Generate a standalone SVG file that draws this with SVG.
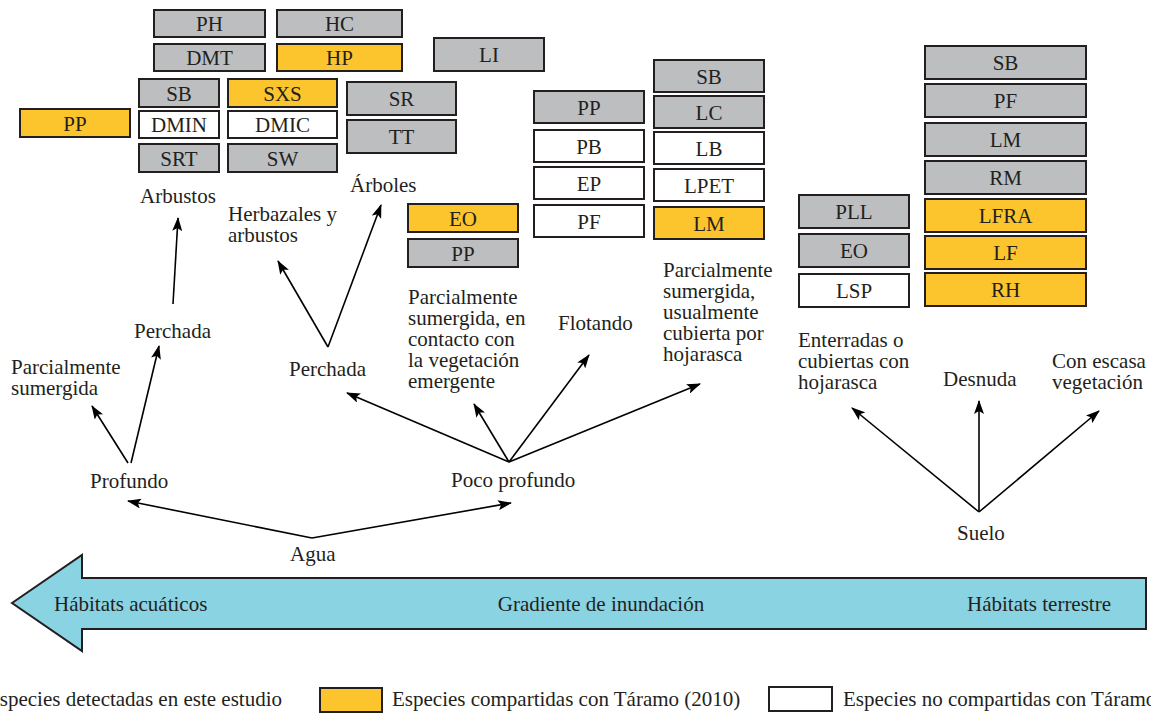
<svg xmlns="http://www.w3.org/2000/svg" width="1151" height="714" viewBox="0 0 1151 714" font-family="'Liberation Serif', Tinos, 'Times New Roman', 'DejaVu Serif', serif" font-size="21">
<defs>
<style>
text{font-family:'Liberation Serif',Tinos,'Times New Roman','DejaVu Serif',serif;font-size:21px;fill:#231f20}
.g{fill:#bcbec0;stroke:#231f20;stroke-width:2}
.y{fill:#fcc42d;stroke:#231f20;stroke-width:2}
.w{fill:#ffffff;stroke:#231f20;stroke-width:2}
.c{text-anchor:middle}
.ln{stroke:#000;stroke-width:1.6;fill:none;marker-end:url(#ah)}
</style>
<marker id="ah" markerUnits="userSpaceOnUse" markerWidth="14" markerHeight="10" refX="13" refY="5" orient="auto">
<path d="M0,0 L14,5 L0,10 L3,5 z" fill="#000"/>
</marker>
</defs>
<rect width="1151" height="714" fill="#fff"/>

<g id="boxes">
<g id="n-PH"><rect class="g" x="154" y="10" width="111" height="27"/><text class="c" x="209.5" y="31">PH</text></g>
<g id="n-HC"><rect class="g" x="277" y="10" width="125" height="27"/><text class="c" x="339.5" y="31">HC</text></g>
<g id="n-DMT"><rect class="g" x="154" y="44" width="111" height="27"/><text class="c" x="209.5" y="65">DMT</text></g>
<g id="n-HP"><rect class="y" x="277" y="44" width="125" height="27"/><text class="c" x="339.5" y="65">HP</text></g>
<g id="n-LI"><rect class="g" x="434" y="38" width="110" height="33"/><text class="c" x="489" y="62">LI</text></g>
<g id="n-PP1"><rect class="y" x="20" y="109" width="110" height="28"/><text class="c" x="75" y="130.5">PP</text></g>
<g id="n-SB1"><rect class="g" x="139" y="79" width="80" height="28"/><text class="c" x="179" y="100.5">SB</text></g>
<g id="n-DMIN"><rect class="w" x="139" y="111" width="80" height="27"/><text class="c" x="179" y="132">DMIN</text></g>
<g id="n-SRT"><rect class="g" x="139" y="144" width="80" height="28"/><text class="c" x="179" y="165.5">SRT</text></g>
<g id="n-SXS"><rect class="y" x="228" y="79" width="109" height="28"/><text class="c" x="282.5" y="100.5">SXS</text></g>
<g id="n-DMIC"><rect class="w" x="228" y="111" width="109" height="27"/><text class="c" x="282.5" y="132">DMIC</text></g>
<g id="n-SW"><rect class="g" x="228" y="144" width="109" height="28"/><text class="c" x="282.5" y="165.5">SW</text></g>
<g id="n-SR"><rect class="g" x="347" y="82" width="109" height="33"/><text class="c" x="401.5" y="106">SR</text></g>
<g id="n-TT"><rect class="g" x="347" y="120" width="109" height="33"/><text class="c" x="401.5" y="144">TT</text></g>
<g id="n-EO1"><rect class="y" x="408" y="204" width="110" height="28"/><text class="c" x="463" y="225.5">EO</text></g>
<g id="n-PP2"><rect class="g" x="408" y="239" width="110" height="28"/><text class="c" x="463" y="260.5">PP</text></g>
<g id="n-PP3"><rect class="g" x="534" y="91" width="110" height="32"/><text class="c" x="589" y="114.5">PP</text></g>
<g id="n-PB"><rect class="w" x="534" y="130" width="110" height="32"/><text class="c" x="589" y="153.5">PB</text></g>
<g id="n-EP"><rect class="w" x="534" y="167" width="110" height="32"/><text class="c" x="589" y="190.5">EP</text></g>
<g id="n-PF1"><rect class="w" x="534" y="205" width="110" height="32"/><text class="c" x="589" y="228.5">PF</text></g>
<g id="n-SB2"><rect class="g" x="654" y="60" width="110" height="32"/><text class="c" x="709" y="83.5">SB</text></g>
<g id="n-LC"><rect class="g" x="654" y="96" width="110" height="32"/><text class="c" x="709" y="119.5">LC</text></g>
<g id="n-LB"><rect class="w" x="654" y="132" width="110" height="32"/><text class="c" x="709" y="155.5">LB</text></g>
<g id="n-LPET"><rect class="w" x="654" y="169" width="110" height="32"/><text class="c" x="709" y="192.5">LPET</text></g>
<g id="n-LM1"><rect class="y" x="654" y="207" width="110" height="32"/><text class="c" x="709" y="230.5">LM</text></g>
<g id="n-PLL"><rect class="g" x="799" y="195" width="110" height="33"/><text class="c" x="854" y="219">PLL</text></g>
<g id="n-EO2"><rect class="g" x="799" y="234" width="110" height="33"/><text class="c" x="854" y="258">EO</text></g>
<g id="n-LSP"><rect class="w" x="799" y="274" width="110" height="33"/><text class="c" x="854" y="298">LSP</text></g>
<g id="n-SB3"><rect class="g" x="925" y="46" width="161" height="33"/><text class="c" x="1005.5" y="70">SB</text></g>
<g id="n-PF2"><rect class="g" x="925" y="84" width="161" height="33"/><text class="c" x="1005.5" y="108">PF</text></g>
<g id="n-LM2"><rect class="g" x="925" y="123" width="161" height="33"/><text class="c" x="1005.5" y="147">LM</text></g>
<g id="n-RM"><rect class="g" x="925" y="161" width="161" height="33"/><text class="c" x="1005.5" y="185">RM</text></g>
<g id="n-LFRA"><rect class="y" x="925" y="199" width="161" height="33"/><text class="c" x="1005.5" y="223">LFRA</text></g>
<g id="n-LF"><rect class="y" x="925" y="236" width="161" height="33"/><text class="c" x="1005.5" y="260">LF</text></g>
<g id="n-RH"><rect class="y" x="925" y="273" width="161" height="33"/><text class="c" x="1005.5" y="297">RH</text></g>
</g>

<g id="labels">
<g id="l-arbustos"><text x="140" y="203">Arbustos</text></g>
<g id="l-herbazales"><text x="228" y="221">Herbazales y</text><text x="228" y="242">arbustos</text></g>
<g id="l-arboles"><text x="350" y="192">Árboles</text></g>
<g id="l-perchada1"><text x="134" y="338">Perchada</text></g>
<g id="l-parcial1"><text x="11" y="374">Parcialmente</text><text x="11" y="395">sumergida</text></g>
<g id="l-profundo"><text x="90" y="488">Profundo</text></g>
<g id="l-perchada2"><text x="289" y="376">Perchada</text></g>
<g id="l-agua"><text x="290" y="561">Agua</text></g>
<g id="l-poco"><text x="451" y="487">Poco profundo</text></g>
<g id="l-parcial2"><text x="408" y="304">Parcialmente</text><text x="408" y="325">sumergida, en</text><text x="408" y="346">contacto con</text><text x="408" y="367">la vegetación</text><text x="408" y="388">emergente</text></g>
<g id="l-flotando"><text x="558" y="330">Flotando</text></g>
<g id="l-parcial3"><text x="663" y="277">Parcialmente</text><text x="663" y="298">sumergida,</text><text x="663" y="319">usualmente</text><text x="663" y="340">cubierta por</text><text x="663" y="361">hojarasca</text></g>
<g id="l-enterradas"><text x="798" y="347">Enterradas o</text><text x="798" y="368">cubiertas con</text><text x="798" y="389">hojarasca</text></g>
<g id="l-desnuda"><text x="943" y="386">Desnuda</text></g>
<g id="l-escasa"><text x="1052" y="368">Con escasa</text><text x="1052" y="389">vegetación</text></g>
<g id="l-suelo"><text x="957" y="540">Suelo</text></g>
</g>

<g id="connectors">
<line class="ln" x1="173" y1="304" x2="178" y2="218"/>
<line class="ln" x1="128" y1="463" x2="92" y2="406"/>
<line class="ln" x1="131" y1="463" x2="159" y2="346"/>
<line class="ln" x1="328" y1="347" x2="278" y2="261"/>
<line class="ln" x1="328" y1="347" x2="381" y2="205"/>
<line class="ln" x1="312" y1="538" x2="128" y2="501"/>
<line class="ln" x1="312" y1="538" x2="511" y2="503"/>
<line class="ln" x1="509" y1="462" x2="347" y2="393"/>
<line class="ln" x1="509" y1="462" x2="474" y2="404"/>
<line class="ln" x1="509" y1="462" x2="589" y2="355"/>
<line class="ln" x1="509" y1="462" x2="700" y2="384"/>
<line class="ln" x1="979" y1="512" x2="852" y2="408"/>
<line class="ln" x1="979" y1="512" x2="979" y2="401"/>
<line class="ln" x1="979" y1="512" x2="1099" y2="411"/>
</g>

<g id="gradient">
<polygon points="12,603 82,555 82,578 1146,578 1146,629 82,629 82,651" fill="#89d3e3" stroke="#231f20" stroke-width="2"/>
<text x="54" y="611">Hábitats acuáticos</text>
<text class="c" x="601" y="611">Gradiente de inundación</text>
<text x="967" y="611">Hábitats terrestre</text>
</g>

<g id="legend">
<text x="282" y="706" text-anchor="end">Especies detectadas en este estudio</text>
<rect class="y" x="320" y="688" width="62" height="24"/>
<text x="392" y="706">Especies compartidas con Táramo (2010)</text>
<rect class="w" x="769" y="687" width="63" height="24"/>
<text x="843" y="706">Especies no compartidas con Táramo</text>
</g>
</svg>
